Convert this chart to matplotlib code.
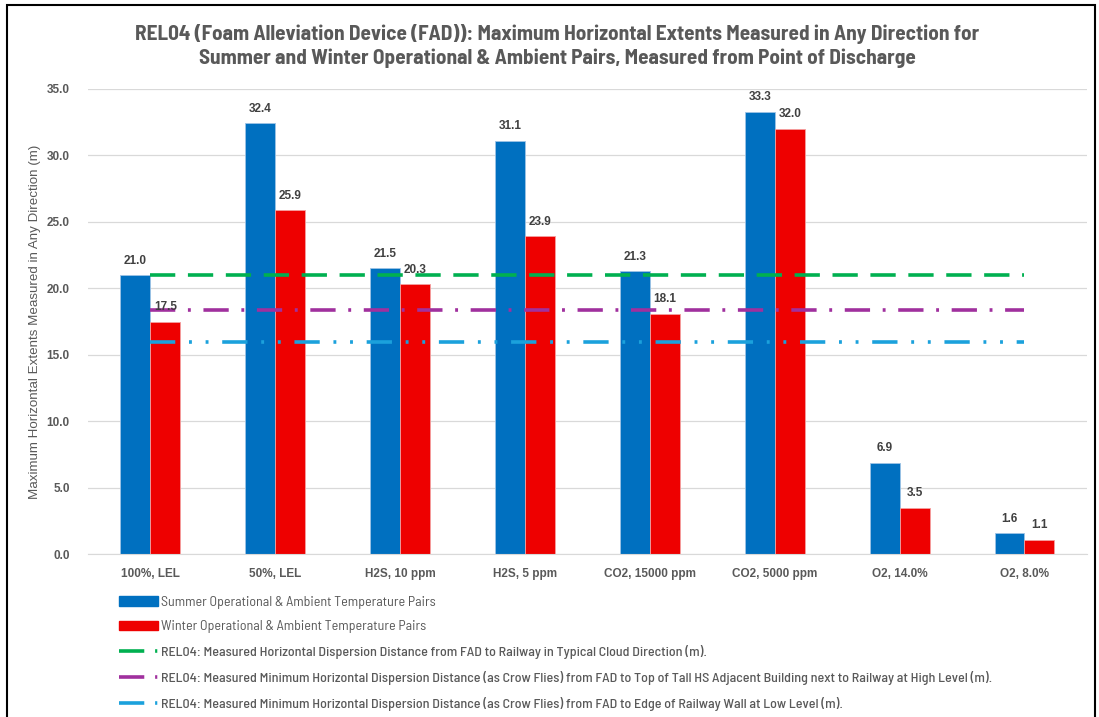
import matplotlib
matplotlib.use("Agg")
import matplotlib.pyplot as plt
import matplotlib.patches as mpatches
from matplotlib.lines import Line2D
import numpy as np

categories = ["100%, LEL", "50%, LEL", "H2S, 10 ppm", "H2S, 5 ppm",
              "CO2, 15000 ppm", "CO2, 5000 ppm", "O2, 14.0%", "O2, 8.0%"]
summer = [21.0, 32.4, 21.5, 31.1, 21.3, 33.3, 6.9, 1.6]
winter = [17.5, 25.9, 20.3, 23.9, 18.1, 32.0, 3.5, 1.1]
ref_railway = 21.0
ref_building = 18.4
ref_wall = 16.0

title = ("REL04 (Foam Alleviation Device (FAD)): Maximum Horizontal Extents Measured in Any Direction for\n"
         "Summer and Winter Operational & Ambient Pairs, Measured from Point of Discharge")
ylabel = "Maximum Horizontal Extents Measured in Any Direction (m)"
leg_labels = ["Summer Operational & Ambient Temperature Pairs",
              "Winter Operational & Ambient Temperature Pairs",
              "REL04: Measured Horizontal Dispersion Distance from FAD to Railway in Typical Cloud Direction (m).",
              "REL04: Measured Minimum Horizontal Dispersion Distance (as Crow Flies) from FAD to Top of Tall HS Adjacent Building next to Railway at High Level (m).",
              "REL04: Measured Minimum Horizontal Dispersion Distance (as Crow Flies) from FAD to Edge of Railway Wall at Low Level (m)."]

BLUE = "#0070C0"
RED = "#EE0000"
GREEN = "#00B050"
PURPLE = "#A0309E"
CYAN = "#1BA1DC"
GRAY = "#595959"
COND = ["Barlow Semi Condensed", "DejaVu Sans"]
ARIAL = ["Liberation Sans", "DejaVu Sans"]

fig = plt.figure(figsize=(10.99, 7.17), dpi=100)
ax = fig.add_axes([0.080, 0.227, 0.909, 0.649])

x = np.arange(len(categories))
w = 0.24
ax.bar(x - w / 2, summer, w, color=BLUE, edgecolor="#9DC3E6", linewidth=0.6, zorder=2)
ax.bar(x + w / 2, winter, w, color=RED, edgecolor="#F4A0A0", linewidth=0.6, zorder=2)

for xs_, vals in ((x - w / 2, summer), (x + w / 2, winter)):
    for xi, v in zip(xs_, vals):
        ax.annotate(f"{v:.1f}", (xi, v), xytext=(0, 6), textcoords="offset points",
                    ha="center", va="bottom", fontsize=8.5, fontweight="bold",
                    color="#404040", family=ARIAL, zorder=5)

D_GREEN = (7, 3.5)
D_PURPLE = (7, 3.5, 0.8, 3.5)
D_CYAN = (7, 3.8, 0.8, 3.8, 0.8, 3.8)
D_HANDLE = (7, 3.0, 0.6, 3.0)
xs = [x[0], x[-1]]
ax.plot(xs, [ref_railway] * 2, color=GREEN, lw=2.6, dashes=D_GREEN, zorder=3)
ax.plot(xs, [ref_building] * 2, color=PURPLE, lw=2.6, dashes=D_PURPLE, zorder=3)
ax.plot(xs, [ref_wall] * 2, color=CYAN, lw=2.6, dashes=D_CYAN, zorder=3)

ax.set_xlim(-0.5, len(categories) - 0.5)
ax.set_ylim(0, 35)
yt = np.arange(0, 35.1, 5)
ax.set_yticks(yt)
ax.set_yticklabels([f"{v:.1f}" for v in yt])
ax.set_xticks(x)
ax.set_xticklabels(categories)
ax.tick_params(axis="y", length=0, labelsize=8.5, labelcolor=GRAY, pad=13)
ax.tick_params(axis="x", length=0, labelsize=8.5, labelcolor=GRAY, pad=10)
for lab in ax.get_xticklabels() + ax.get_yticklabels():
    lab.set_fontweight("bold")
    lab.set_family(ARIAL)
ax.grid(axis="y", color="#D9D9D9", lw=0.9, zorder=0)
for s in ["top", "right", "left"]:
    ax.spines[s].set_visible(False)
ax.spines["bottom"].set_color("#D9D9D9")
ax.set_ylabel(ylabel, fontsize=9.6, color=GRAY, labelpad=4, family=ARIAL)

fig.text(0.507, 0.936, title, ha="center", va="center", fontsize=15.3, fontweight="bold",
         color=GRAY, family=COND, linespacing=1.28)

handles = [mpatches.Patch(color=BLUE), mpatches.Patch(color=RED),
           Line2D([], [], color=GREEN, lw=2.6, dashes=D_HANDLE),
           Line2D([], [], color=PURPLE, lw=2.6, dashes=D_HANDLE),
           Line2D([], [], color=CYAN, lw=2.6, dashes=D_HANDLE)]
leg = fig.legend(handles, leg_labels, loc="upper left", bbox_to_anchor=(0.097, 0.187),
                 frameon=False, labelspacing=0.84, handlelength=2.75, handletextpad=0.25,
                 prop={"family": COND, "size": 10.1})
for i, t in enumerate(leg.get_texts()):
    t.set_color(GRAY)
    if i >= 2:
        t.set_fontweight("medium")

fig.add_artist(mpatches.Rectangle((0.006, -0.02), 0.990, 1.013, transform=fig.transFigure,
                                  fill=False, edgecolor="black", lw=1.5))

fig.savefig("out.png", dpi=100)
